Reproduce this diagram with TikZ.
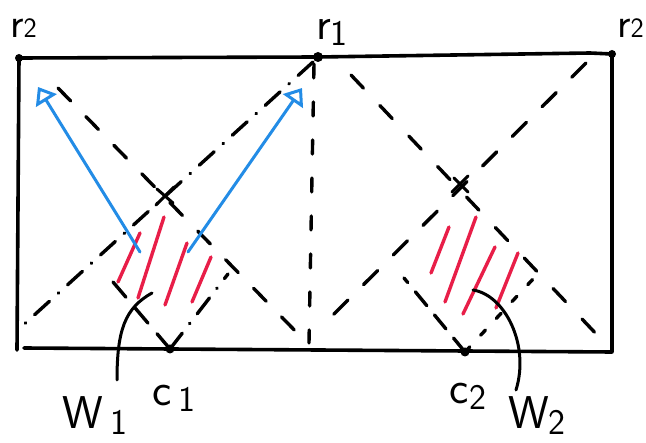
\documentclass[tikz,border=0pt]{standalone}
\usetikzlibrary{arrows.meta}
\definecolor{inkblue}{RGB}{35,140,230}
\definecolor{inkred}{RGB}{232,30,72}
\newcommand{\lowdig}[1]{\raisebox{-0.3ex}{\fontsize{36}{40}\selectfont #1}}
\newcommand{\smalldig}[1]{\raisebox{0.05ex}{\fontsize{28}{32}\selectfont #1}}
\begin{document}
\begin{tikzpicture}[x=1pt,y=-1pt,
  edge/.style={line width=3.6pt, line cap=round, line join=round},
  dashline/.style={line width=3.4pt, line cap=round, dash pattern=on 16pt off 20pt},
  dashdot/.style={line width=3.4pt, line cap=round, dash pattern=on 20pt off 12pt on 0.5pt off 12pt},
  shortdash/.style={line width=3.4pt, line cap=round, dash pattern=on 7pt off 16pt},
  hatch/.style={inkred, line width=3.4pt, line cap=round},
  ray/.style={inkblue, line width=3pt, line cap=round, line join=round,
    -{Triangle[open, length=16pt, width=24pt]}},
  lbl/.style={font=\sffamily\fontsize{46}{50}\selectfont, inner sep=0pt},
  toplbl/.style={font=\sffamily\fontsize{42}{46}\selectfont, inner sep=0pt},
  dotmark/.style={circle, fill=black, inner sep=0pt, minimum size=9pt}]
\useasboundingbox (0,0) rectangle (646,443);
\fill[white] (0,0) rectangle (646,443);

% corners and points
\coordinate (TL) at (19,58);
\coordinate (R1) at (318,57);
\coordinate (TRs) at (590,53);
\coordinate (TR) at (612,54);
\coordinate (BR) at (612,352);
\coordinate (BL) at (17,350);
\coordinate (C1) at (170,349);
\coordinate (C2) at (465,352);

% frame
\draw[edge] (BL) -- (TL) -- (R1) -- (TRs) -- (TR) -- (BR) -- (24,348);

% left cell diagonals
\coordinate (L1a) at (58,88);   \coordinate (L1b) at (307,343);
\coordinate (L2a) at (313,62);  \coordinate (L2b) at (20,328);
\draw[dashline, dash pattern=on 18pt off 22pt] (L1a) -- (L1b);
\draw[dashdot] (L2a) -- (L2b);
\coordinate (V1a) at (314,64);  \coordinate (V1b) at (309,343);
\draw[dashline, dash pattern=on 14pt off 24pt] (V1a) -- (V1b);
\coordinate (X1) at (165,196);
\draw[edge, line width=3pt] (X1) ++(-9,9) -- ++(18,-18);
\draw[edge, line width=3pt] (X1) ++(-8,-7) -- ++(16,14);

% lower V at c1
\coordinate (U1l) at (113,282); \coordinate (U1r) at (228,274);
\draw[dashline, dash pattern=on 20pt off 14pt] (C1) -- (U1l);
\draw[dashdot] (C1) -- (U1r);

% right cell diagonals
\coordinate (L3a) at (351,75);  \coordinate (L3b) at (600,338);
\coordinate (L4a) at (586,63);  \coordinate (L4b) at (328,320);
\draw[dashline, dash pattern=on 18pt off 24pt] (L3a) -- (L3b);
\draw[dashline, dash pattern=on 20pt off 22pt] (L4a) -- (L4b);
\coordinate (X2) at (460,184);
\draw[edge, line width=3pt] (X2) ++(-8,8) -- ++(16,-16);
\draw[edge, line width=3pt] (X2) ++(-6,-6) -- ++(14,14);

% lower V at c2
\coordinate (U2l) at (404,278); \coordinate (U2r) at (534,278);
\draw[dashline, dash pattern=on 18pt off 12pt] (C2) -- (U2l);
\draw[shortdash] (C2) -- (U2r);

% hatching W1
\draw[hatch] (140,233) -- (118,282);
\draw[hatch] (164,217) -- (138,298);
\draw[hatch] (187,243) -- (165,305);
\draw[hatch] (211,257) -- (192,302);
% hatching W2
\draw[hatch] (449,227) -- (431,273);
\draw[hatch] (476,217) -- (445,302);
\draw[hatch] (495,247) -- (463,314);
\draw[hatch] (518,253) -- (496,308);

% blue rays
\coordinate (B1s) at (140,252); \coordinate (B1t) at (38,87);
\coordinate (B2s) at (188,252); \coordinate (B2t) at (302,88);
\draw[ray] (B1s) -- (B1t);
\draw[ray] (B2s) -- (B2t);

% dots
\node[dotmark, minimum size=8pt] (dTL) at (TL) {};
\node[dotmark, minimum size=10pt] (dR1) at (R1) {};
\node[dotmark, minimum size=8pt] (dTR) at (TR) {};
\node[dotmark] (dC1) at (C1) {};
\node[dotmark] (dC2) at (C2) {};

% labels
\node[toplbl, anchor=base west] (r2l) at (10,38) {r\smalldig{2}};
\node[lbl, anchor=base west] (r1) at (316,40) {r\lowdig{1}};
\node[toplbl, anchor=base east] (r2r) at (644,38) {r\smalldig{2}};
\node[lbl] (c1) at (174,398) {c\,\lowdig{1}};
\node[lbl] (c2) at (468,396) {c\lowdig{2}};
\node[lbl] (w1) at (95,416) {W\,\lowdig{1}};
\node[lbl] (w2) at (537,416) {W\lowdig{2}};

% callout curves
\coordinate (W1s) at (152,293); \coordinate (W1e) at (117,380);
\coordinate (W2s) at (473,290); \coordinate (W2e) at (516,390);
\draw[edge, line width=3pt] (W1s) .. controls (125,308) and (117,330) .. (W1e);
\draw[edge, line width=3pt] (W2s) .. controls (505,295) and (530,345) .. (W2e);
\end{tikzpicture}
\end{document}
